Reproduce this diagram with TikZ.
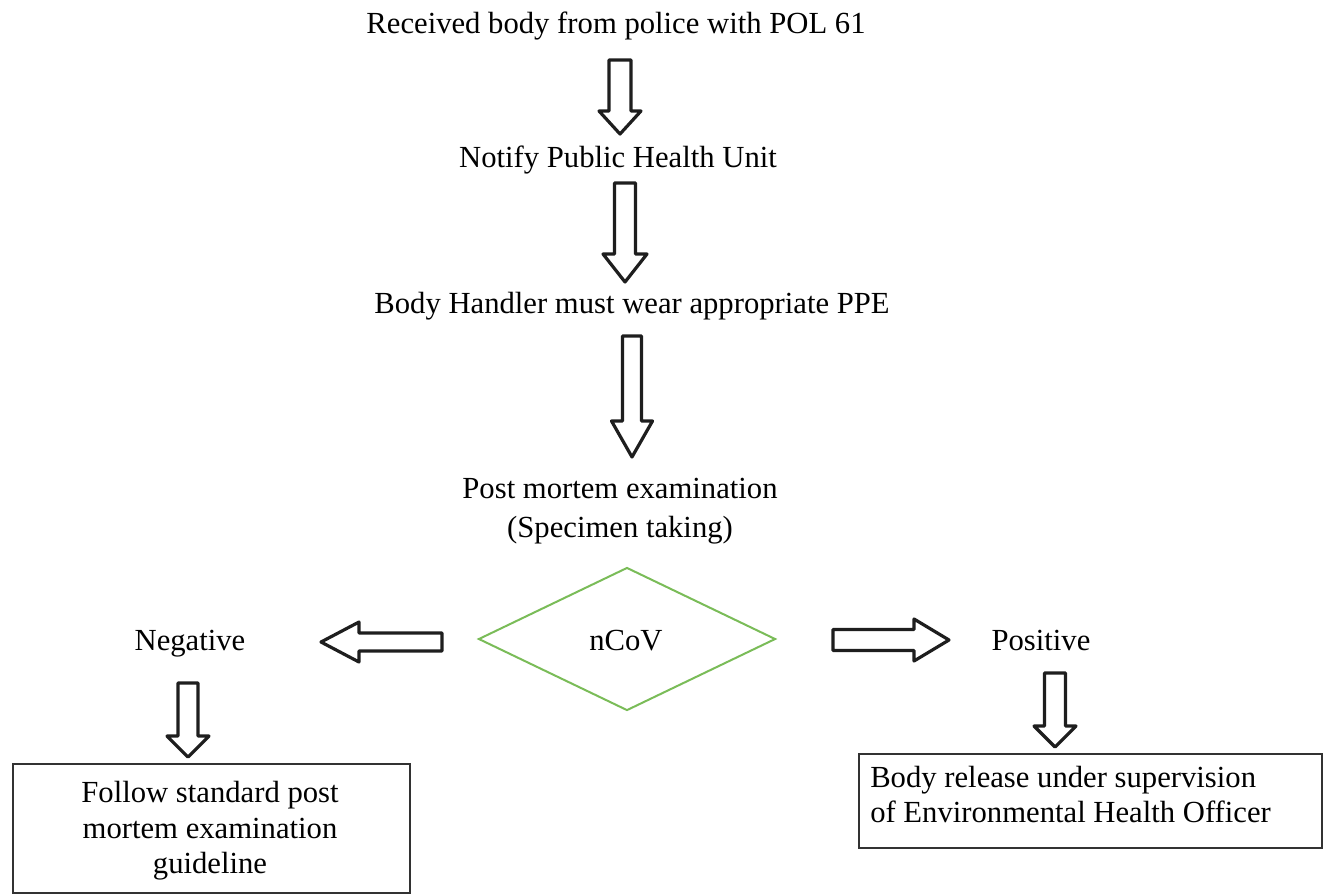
\documentclass[tikz,border=0pt]{standalone}
\usepackage{fontspec}
\setmainfont{Liberation Serif}
\usetikzlibrary{shapes.geometric}
\definecolor{inkgrey}{RGB}{30,30,30}
\definecolor{boxgrey}{RGB}{50,50,50}
\definecolor{decgreen}{RGB}{122,188,88}
\tikzset{
  x=0.75pt, y=-0.75pt,
  steptext/.style={anchor=base, inner sep=0pt, font=\fontsize{23}{27}\selectfont},
  boxtext/.style={anchor=base, inner sep=0pt, font=\fontsize{23}{27}\selectfont},
  outcomebox/.style={draw=boxgrey, line width=1.4pt, anchor=north west, inner sep=0pt},
  arrowline/.style={draw=inkgrey, line width=2.4pt, line join=round, fill=white},
  % hollow block arrow pointing down from its origin:
  % #1 length, #2 shaft half width, #3 head half width, #4 head length
  pics/blockarrow/.style n args={4}{code={
    \draw[arrowline] (-#2,0) -- (-#2,#1-#4) -- (-#3,#1-#4) -- (0,#1)
      -- (#3,#1-#4) -- (#2,#1-#4) -- (#2,0) -- cycle;
  }}
}
\begin{document}
\begin{tikzpicture}
\useasboundingbox (0,0) rectangle (1326,894);

% main sequence of steps
\node[steptext] (received) at (616,33) {Received body from police with POL 61};
\node[steptext] (notify)   at (618,167) {Notify Public Health Unit};
\node[steptext] (ppe)      at (632,313) {Body Handler must wear appropriate PPE};
\node[steptext] (pm)       at (620,498) {Post mortem examination};
\node[steptext] (pm2)      at (620,537) {(Specimen taking)};

% decision
\node[draw=decgreen, line width=1.5pt, shape=diamond, inner sep=0pt,
      minimum width=222.75pt, minimum height=107.25pt] (ncov) at (627,639) {};
\node[boxtext] (ncovlabel) at (626,650) {nCoV};

\node[steptext] (negative) at (190,650) {Negative};
\node[steptext] (positive) at (1041,650) {Positive};

% block arrows
\pic (a1) at (620,60)  {blockarrow={74}{11}{21}{23}};
\pic (a2) at (625,183) {blockarrow={99}{10.5}{22}{28}};
\pic (a3) at (632,336) {blockarrow={121}{9.5}{20.5}{36}};
\pic[rotate=-90] (aneg) at (442,642) {blockarrow={121}{9}{20}{38}};
\pic[rotate=90]  (apos) at (833,640) {blockarrow={116}{10.5}{21}{35}};
\pic (aneg2) at (188,683)  {blockarrow={74}{10}{21}{21}};
\pic (apos2) at (1055,673) {blockarrow={74}{10.5}{21}{21}};

% outcome boxes
\node[outcomebox, minimum width=297.75pt, minimum height=96.75pt] (negbox) at (12,763) {};
\node[boxtext] (neg1) at (210,802) {Follow standard post};
\node[boxtext] (neg2) at (210,838) {mortem examination};
\node[boxtext] (neg3) at (210,873) {guideline};

\node[outcomebox, minimum width=347.25pt, minimum height=70.5pt] (posbox) at (858,753) {};
\node[boxtext, anchor=base west] (pos1) at (870,787) {Body release under supervision};
\node[boxtext, anchor=base west] (pos2) at (870,822) {of Environmental Health Officer};
\end{tikzpicture}
\end{document}
